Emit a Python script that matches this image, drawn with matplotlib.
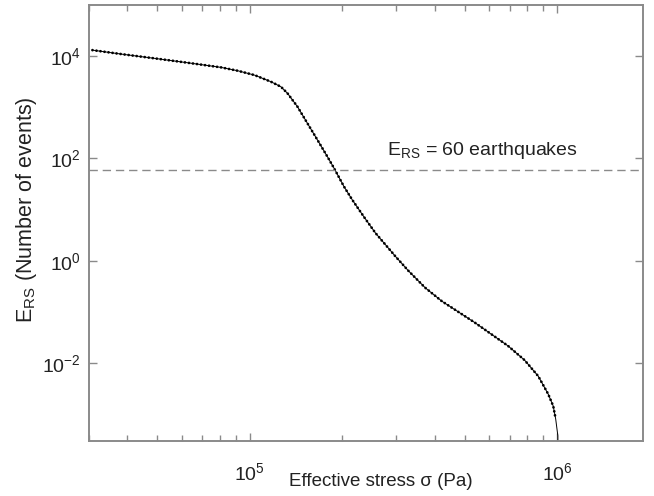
import numpy as np
import matplotlib.pyplot as plt
from matplotlib.ticker import LogLocator, NullLocator, NullFormatter, LogFormatterMathtext

plt.rcParams['font.family'] = ['Liberation Sans', 'DejaVu Sans']
plt.rcParams['mathtext.fontset'] = 'custom'
plt.rcParams['mathtext.rm'] = 'Liberation Sans'
plt.rcParams['mathtext.it'] = 'Liberation Sans'

# values
stress = [3.08e4, 3.83e4, 4.92e4, 6.30e4, 8.07e4, 9.15e4, 1.036e5, 1.172e5,
          1.263e5, 1.327e5, 1.430e5, 1.540e5, 1.660e5, 1.788e5, 1.880e5,
          2.025e5, 2.154e5, 2.356e5, 2.563e5, 2.975e5, 3.287e5, 3.722e5,
          4.213e5, 5.40e5, 6.93e5, 7.84e5, 8.68e5, 9.35e5, 9.71e5, 9.89e5,
          1.005e6, 1.008e6]
events = [1.309e4, 1.094e4, 9.02e3, 7.40e3, 6.02e3, 5.17e3, 4.26e3, 3.16e3,
          2.52e3, 1.876e3, 1.027e3, 488, 231, 109, 64.7,
          28.3, 15.6, 7.11, 3.50, 1.224, 0.629, 0.2965,
          0.1623, 0.0616, 0.0215, 0.01135, 0.00553, 0.00247, 0.00144, 8.04e-4,
          3.79e-4, 1e-5]
threshold = 60
xticks = [1e5, 1e6]
yticks = [1e-2, 1e0, 1e2, 1e4]

gray = '#8a8a8a'
ink = '#222222'

fig = plt.figure(figsize=(6.54, 4.96), dpi=100)
ax = fig.add_axes([0.136, 0.111, 0.847, 0.879])

ax.plot(stress, events, color='k', lw=0.7)
ax.plot(stress[:-2], events[:-2], color='k', lw=2.0, ls=(0, (0.01, 1.45)),
        dash_capstyle='round')
ax.axhline(threshold, color=gray, lw=1.0, ls=(0, (6, 3.5)))

ax.set_xscale('log')
ax.set_yscale('log')
ax.set_xlim(3.0e4, 1.9e6)
ax.set_ylim(3.0e-4, 1.0e5)

ax.set_xticks(xticks)
ax.set_yticks(yticks)
ax.xaxis.set_minor_locator(LogLocator(base=10, subs=np.arange(2, 10)))
ax.yaxis.set_minor_locator(NullLocator())
ax.xaxis.set_major_formatter(LogFormatterMathtext())
ax.xaxis.set_minor_formatter(NullFormatter())
ax.yaxis.set_major_formatter(LogFormatterMathtext())

for s in ax.spines.values():
    s.set_color(gray)
    s.set_linewidth(1.4)
ax.tick_params(which='both', direction='in', top=True, right=True, color=gray,
               labelsize=14, labelcolor=ink)
ax.tick_params(which='major', length=6, width=1.0)
ax.tick_params(which='minor', length=4, width=1.0)
ax.tick_params(axis='x', pad=15)
ax.tick_params(axis='y', pad=6)

ax.text(2.80e5, 117, r'E$_{\mathrm{RS}}$ = 60 earthquakes', fontsize=14,
        color=ink, va='baseline')

ax.set_xlabel('Effective stress σ (Pa)', fontsize=13.5, color=ink)
ax.xaxis.set_label_coords(0.527, -0.074)
ax.set_ylabel(r'E$_{\mathrm{RS}}$ (Number of events)', fontsize=15.5, color=ink)
ax.yaxis.set_label_coords(-0.09, 0.53)

fig.savefig('out.png', dpi=100)
